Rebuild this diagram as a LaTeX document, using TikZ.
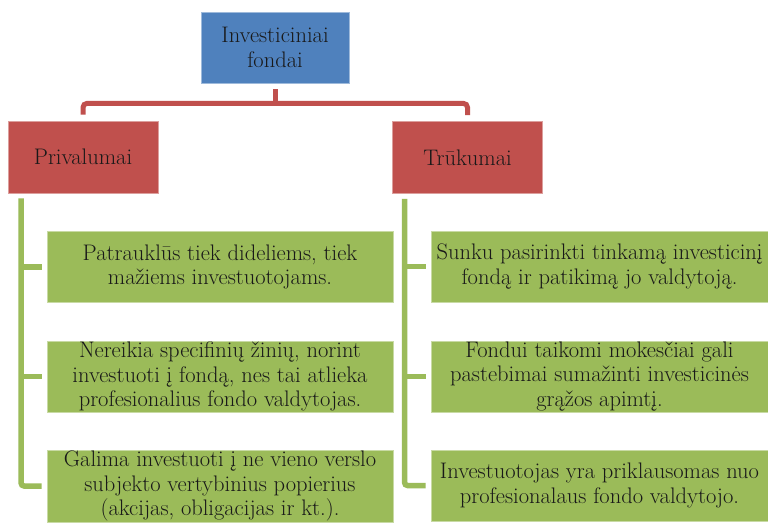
\documentclass[tikz,border=0pt]{standalone}
\usepackage{fontspec}
\definecolor{blueC}{HTML}{4F81BD}
\definecolor{redC}{HTML}{C0504D}
\definecolor{greenC}{HTML}{9BBB59}
\begin{document}
\begin{tikzpicture}[x=1pt,y=-1pt,
  box/.style={rectangle, inner sep=0pt, align=center, line width=0.8pt,
    font=\fontsize{22.5}{24.5}\selectfont, text=black!90},
  topbox/.style={box, fill=blueC, draw=blueC!55!white, minimum width=148pt, minimum height=71pt},
  catbox/.style={box, fill=redC, draw=redC!55!white, minimum width=150pt, minimum height=72pt},
  leftbox/.style={box, fill=greenC, draw=greenC!55!white, minimum width=346pt, minimum height=71pt},
  rightbox/.style={box, fill=greenC, draw=greenC!55!white, minimum width=337pt, minimum height=71pt},
  rline/.style={draw=redC, line width=5pt, rounded corners=4pt},
  gline/.style={draw=greenC, line width=5.5pt, rounded corners=3pt}]
\useasboundingbox[fill=white] (0,0) rectangle (768,525);

% root and the two categories
\node[topbox] (root) at (275,47.5) {Investiciniai\\fondai};
\node[catbox] (pros) at (83,157) {Privalumai};
\node[catbox] (cons) at (467.5,157.5) {Trūkumai};

% items under each category
\node[leftbox] (p1) at (220,267) {Patrauklūs tiek dideliems, tiek\\mažiems investuotojams.};
\node[leftbox] (p2) at (220,376.5) {Nereikia specifinių žinių, norint\\investuoti į fondą, nes tai atlieka\\profesionalius fondo valdytojas.};
\node[leftbox, minimum height=72pt] (p3) at (220,486) {Galima investuoti į ne vieno verslo\\subjekto vertybinius popierius\\(akcijas, obligacijas ir kt.).};

\node[rightbox] (c1) at (599.5,266.5) {Sunku pasirinkti tinkamą investicinį\\fondą ir patikimą jo valdytoją.};
\node[rightbox] (c2) at (599.5,376.5) {Fondui taikomi mokesčiai gali\\pastebimai sumažinti investicinės\\grąžos apimtį.};
\node[rightbox] (c3) at (599.5,485.5) {Investuotojas yra priklausomas nuo\\profesionalaus fondo valdytojo.};

% red tree connectors: stem from the root, then one bar across to both categories
\coordinate (j) at ([yshift=-20pt]root.south);
\draw[rline] ([yshift=-6pt]root.south) -- (j);
\draw[rline] ([yshift=6pt]pros.north) |- (j) -| ([yshift=6pt]cons.north);

% green bracket connectors
\coordinate (lt) at ([xshift=13.5pt,yshift=-5pt]pros.south west);
\coordinate (rt) at ([xshift=12.5pt,yshift=-5pt]cons.south west);
\draw[gline] (lt) |- ([xshift=-5pt]p3.west);
\draw[gline] ([xshift=-5pt]p1.west) -- (lt |- p1.west);
\draw[gline] ([xshift=-5pt]p2.west) -- (lt |- p2.west);
\draw[gline] (rt) |- ([xshift=-5pt]c3.west);
\draw[gline] ([xshift=-5pt]c1.west) -- (rt |- c1.west);
\draw[gline] ([xshift=-5pt]c2.west) -- (rt |- c2.west);
\end{tikzpicture}
\end{document}
